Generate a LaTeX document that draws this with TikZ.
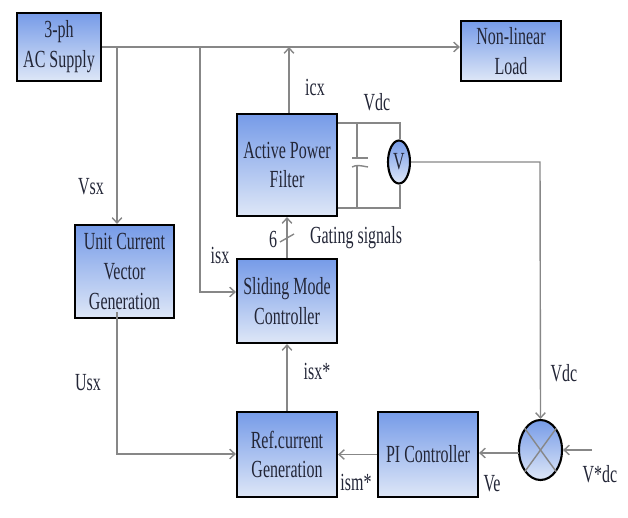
\documentclass[tikz,border=0pt]{standalone}
\usepackage{fontspec}
\setmainfont[FakeStretch=0.65]{Liberation Serif}
\usetikzlibrary{shapes.geometric, arrows.meta}
\definecolor{blocktop}{RGB}{118,155,232}
\definecolor{blockbot}{RGB}{222,231,247}
\definecolor{wire}{RGB}{135,135,135}
\definecolor{inktext}{RGB}{35,38,55}
\tikzset{
blockbox/.style = {draw = black, line width = 1.2pt, top color = blocktop, bottom color = blockbot, align = center, inner sep = 0pt, text = inktext, font = \fontsize{14}{17}\selectfont},
roundbox/.style = {blockbox, ellipse},
sig/.style = {text = inktext, font = \fontsize{14}{15}\selectfont, inner sep = 0pt},
wireline/.style = {draw = wire, line width = 0.8pt, >={Straight Barb[length=3pt, width=5.5pt]}},
}
\begin{document}
\begin{tikzpicture}[x = 0.02cm, y = -0.02cm]
\useasboundingbox (0,0) rectangle (628,517);
% junctions
\coordinate (j1) at (117,47);
\coordinate (j2) at (200,47);
\coordinate (j3) at (289,47);
\coordinate (v1) at (400,123);
\coordinate (v2) at (400,208);
\coordinate (c1) at (357,123);
\coordinate (c2) at (357,208);
\coordinate (c3) at (357,158);
\coordinate (c4) at (357,165);
\coordinate (a0) at (117,312);
\coordinate (a1) at (117,454);
\coordinate (a2) at (200,292);
\coordinate (a3) at (540,162);
\coordinate (s1) at (519,453);
\coordinate (vref) at (592,450);
\coordinate (p1) at (352,158);
\coordinate (p2) at (368,158);
\coordinate (p3) at (352,167);
\coordinate (p4) at (368,167);
\coordinate (t1) at (280,242);
\coordinate (t2) at (294,234);
\node[blockbox, minimum width = 84*0.02cm, minimum height = 68*0.02cm] at (59,47) (supply) {3-ph\\AC Supply};
\node[blockbox, minimum width = 100*0.02cm, minimum height = 60*0.02cm] at (511,51) (load) {Non-linear\\Load};
\node[blockbox, minimum width = 100*0.02cm, minimum height = 102*0.02cm] at (287,165) (apf) {Active Power\\Filter};
\node[blockbox, minimum width = 100*0.02cm, minimum height = 84*0.02cm] at (287,301) (smc) {Sliding Mode\\Controller};
\node[blockbox, minimum width = 99*0.02cm, minimum height = 93*0.02cm] at (124.5,271.5) (ucv) {Unit Current\\Vector\\Generation};
\node[blockbox, minimum width = 100*0.02cm, minimum height = 85*0.02cm] at (287,454.5) (ref) {Ref.current\\Generation};
\node[blockbox, minimum width = 100*0.02cm, minimum height = 85*0.02cm] at (428,454.5) (pi) {PI Controller};
\node[roundbox, minimum width = 43*0.02cm, minimum height = 60*0.02cm] at (540.5,450) (sum) {};
\node[roundbox, minimum width = 22*0.02cm, minimum height = 43*0.02cm] at (399,162) (volt) {V};
\draw[wireline, ->] (supply.east |- j1) -- (load.west |- j1);
\draw[wireline, ->] (j1) -- (j1 |- ucv.north);
\draw[wireline, ->] (j2) -- (a2) -- (a2 -| smc.west);
\draw[wireline, ->] (apf.north -| j3) -- (j3);
\draw[wireline, ->] (smc.north) -- (apf.south);
\draw[wireline, ->] (ref.north) -- (smc.south);
\draw[wireline, ->] (a0) -- (a1) -- (a1 -| ref.west);
\draw[wireline, ->] (pi.west) -- (ref.east);
\draw[wireline, ->] (s1) -- (s1 -| pi.east);
\draw[wireline, ->] (vref) -- (sum.east);
\draw[wireline, ->] (volt.east) -- (a3) -- (sum.north);
\draw[wireline] (apf.east |- v1) -- (v1) -- (v1 |- volt.north);
\draw[wireline] (apf.east |- v2) -- (v2) -- (v2 |- volt.south);
\draw[wireline] (c1) -- (c3);
\draw[wireline] (c4) -- (c2);
\draw[wireline] (p1) .. controls (c3) .. (p2);
\draw[wireline] (p3) .. controls (c4) .. (p4);
\draw[wireline] (sum.north west) -- (sum.south east);
\draw[wireline] (sum.north east) -- (sum.south west);
\draw[wireline] (t1) -- (t2);
\node[sig] at (91,187) (vsxl) {Vsx};
\node[sig] at (220,255) (isxl) {isx};
\node[sig] at (315,87) (icxl) {icx};
\node[sig] at (377,102) (vdcl) {Vdc};
\node[sig] at (273,239) (sixl) {6};
\node[sig] at (356,238) (gatel) {Gating signals};
\node[sig] at (88,383) (usxl) {Usx};
\node[sig] at (317,371) (isxsl) {isx*};
\node[sig] at (356,482) (ismsl) {ism*};
\node[sig] at (492,484) (vel) {Ve};
\node[sig] at (600,474) (vdcsl) {V*dc};
\node[sig] at (564,373) (vdc2l) {Vdc};
\end{tikzpicture}
\end{document}
